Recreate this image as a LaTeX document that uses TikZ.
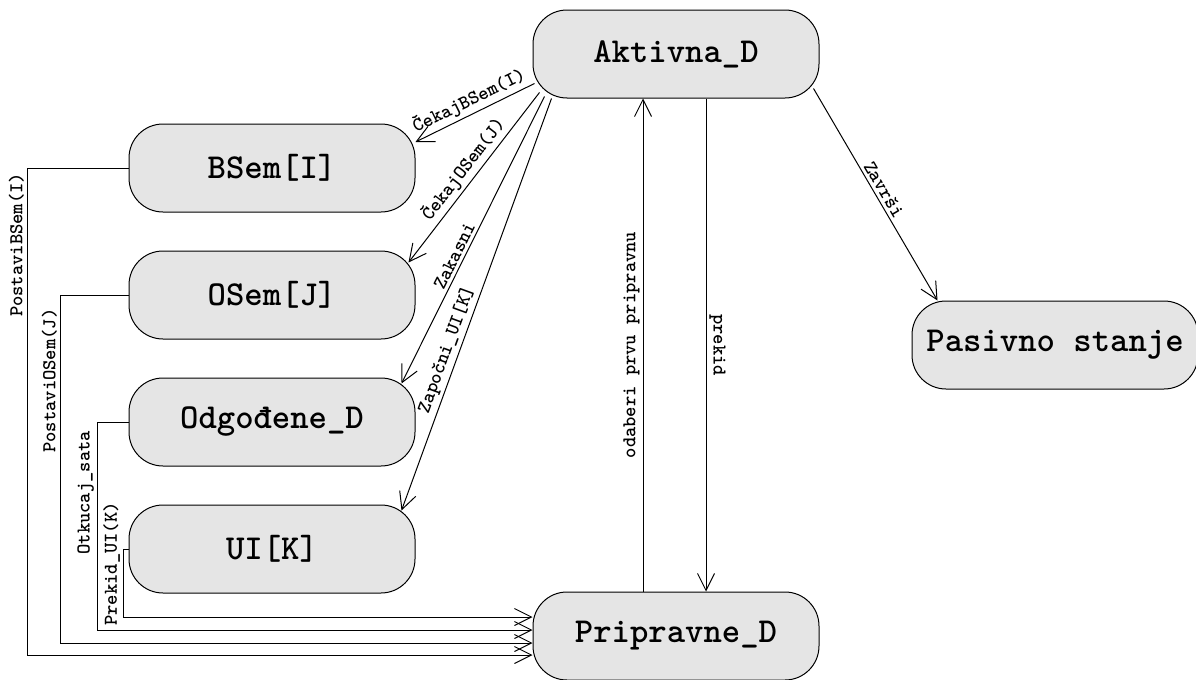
\documentclass[tikz,border=0pt]{standalone}
\usepackage{fontspec}
\usetikzlibrary{arrows.meta, positioning}

\begin{document}
\begin{tikzpicture}[
				x=0.5pt, y=-0.5pt,
				state/.style={rectangle, rounded corners=17pt, draw, fill=black!10, line width=0.5pt,
						minimum width=143pt, minimum height=44pt, font=\ttfamily\bfseries\fontsize{17.5}{20}\selectfont},
				line/.style={draw, line width=0.5pt, -{Straight Barb[length=8.5pt,width=8.5pt]}},
				lbl/.style={font=\ttfamily\bfseries\fontsize{9.8}{11}\selectfont, inner sep=1.5pt},
				node distance=19pt
			]
			\useasboundingbox (0,0) rectangle (1196,680);

			\node [state] (aktivna) at (676,54) {Aktivna\_D};
			\node [state] (bsem) at (272,168) {BSem[I]};
			\node [state, below=of bsem] (osem) {OSem[J]};
			\node [state, below=of osem] (odgodjene) {Odgođene\_D};
			\node [state, below=of odgodjene] (ui) {UI[K]};
			\node [state] (pripravne) at (676,636) {Pripravne\_D};
			\node [state] (pasivno) at (1055,345) {Pasivno stanje};

			\path [line] ([xshift=1pt,yshift=7.5pt]aktivna.south west) -- node [lbl, sloped, above, pos=0.5] {ČekajBSem(I)} ([yshift=13pt]bsem.east);
			\path [line] ([xshift=3.5pt,yshift=3pt]aktivna.south west) -- node [lbl, sloped, above, pos=0.5] {ČekajOSem(J)} ([xshift=-3.5pt,yshift=-6pt]osem.north east);
			\path [line] ([xshift=6pt,yshift=1pt]aktivna.south west) -- node [lbl, sloped, above, pos=0.57] {Zakasni} ([xshift=-7pt,yshift=-3pt]odgodjene.north east);
			\path [line] ([xshift=9.5pt]aktivna.south west) -- node [lbl, sloped, above, pos=0.62] {Započni\_UI[K]} ([xshift=-7pt,yshift=-3pt]ui.north east);
			\path [line] ([xshift=-3pt,yshift=5pt]aktivna.south east) -- node [lbl, sloped, above] {Završi} ([xshift=13pt]pasivno.north west);

			\path [line] ([xshift=15pt]aktivna.south) -- node [lbl, rotate=-90, anchor=south] {prekid} ([xshift=15pt]pripravne.north);
			\path [line] ([xshift=-16.5pt]pripravne.north) -- node [lbl, rotate=90, anchor=south] {odaberi prvu pripravnu} ([xshift=-16.5pt]aktivna.south);

			% povratak u pripravne
			\path [line] (bsem.west) -- ++(-101,0) |- node [lbl, pos=0.079, rotate=90, anchor=south] {PostaviBSem(I)} ([yshift=-9.5pt]pripravne.west);
			\path [line] (osem.west) -- ++(-68,0) |- node [lbl, pos=0.123, rotate=90, anchor=south] {PostaviOSem(J)} ([yshift=-3.5pt]pripravne.west);
			\path [line] (odgodjene.west) -- ++(-31,0) |- node [lbl, pos=0.17, rotate=90, anchor=south] {Otkucaj\_sata} ([yshift=3pt]pripravne.west);
			\path [line] (ui.west) -- ++(-5,0) |- node [lbl, pos=0.11, rotate=90, anchor=south] {Prekid\_UI(K)} ([yshift=9.5pt]pripravne.west);
		\end{tikzpicture}
\end{document}
